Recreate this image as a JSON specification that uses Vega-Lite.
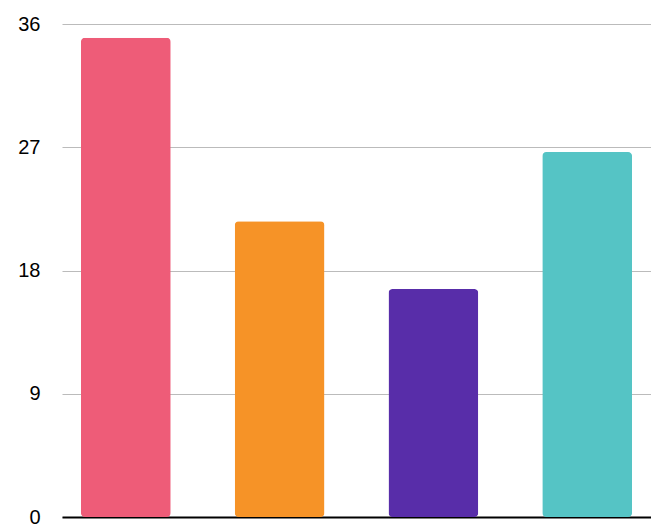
{
  "$schema": "https://vega.github.io/schema/vega-lite/v6.json",
  "width": 589,
  "height": 493,
  "autosize": {"type": "none"},
  "padding": {"left": 62, "top": 24, "right": 0, "bottom": 7},
  "background": "white",
  "config": {"view": {"stroke": null}},
  "data": {"values": [
    {"cat": "A", "value": 35.0},
    {"cat": "B", "value": 21.6},
    {"cat": "C", "value": 16.65},
    {"cat": "D", "value": 26.65}
  ]},
  "mark": {"type": "bar", "cornerRadius": 4},
  "encoding": {
    "x": {
      "field": "cat", "type": "nominal",
      "scale": {"paddingInner": 0.416, "paddingOuter": 0.123},
      "axis": {"title": null, "labels": false, "ticks": false, "domainColor": "#000000", "domainWidth": 2, "grid": false}
    },
    "y": {
      "field": "value", "type": "quantitative",
      "scale": {"domain": [0, 36], "nice": false},
      "axis": {"title": null, "values": [0, 9, 18, 27, 36], "domain": false, "ticks": false, "labelPadding": 22, "labelFont": "Liberation Sans", "labelFontSize": 20, "labelColor": "#000000", "gridColor": "#bbbbbb", "gridWidth": 1}
    },
    "color": {
      "field": "cat", "type": "nominal",
      "scale": {"domain": ["A", "B", "C", "D"], "range": ["#EE5C78", "#F69327", "#582DA9", "#55C4C5"]},
      "legend": null
    }
  }
}
